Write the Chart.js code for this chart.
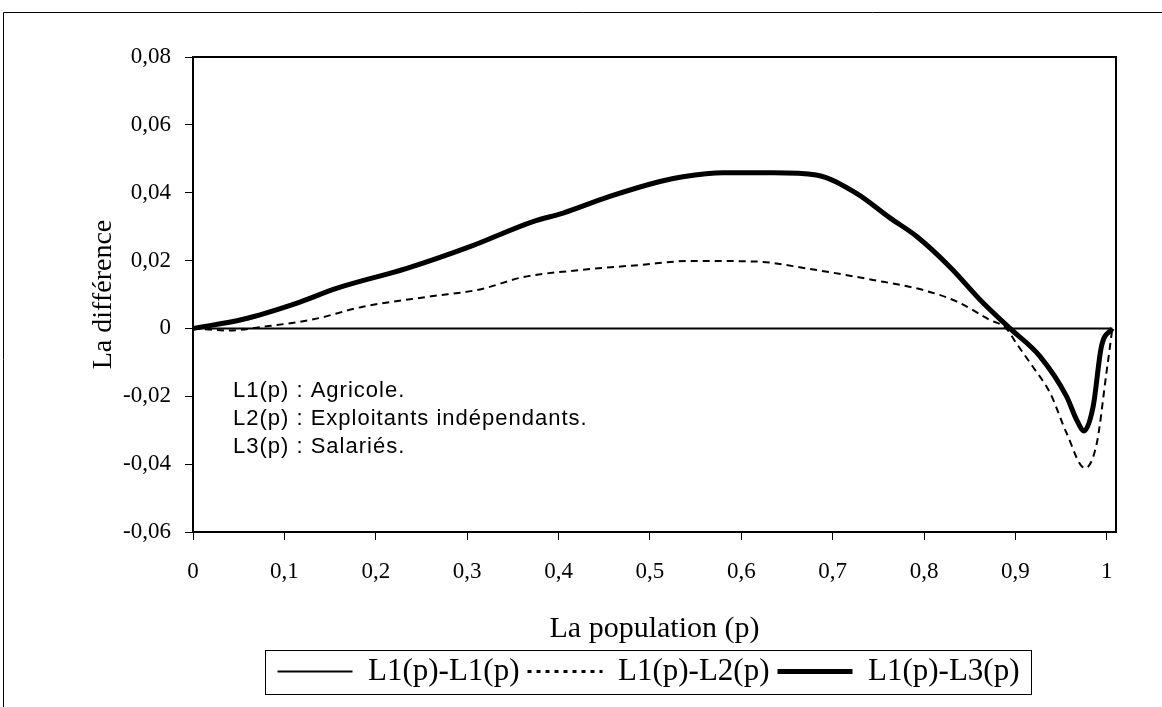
<!DOCTYPE html>
<html>
<head>
<meta charset="utf-8">
<script src="https://cdn.jsdelivr.net/npm/chart.js@4/dist/chart.umd.min.js"></script>
<style>
  html, body { margin: 0; padding: 0; background: #fff; }
  #wrap { width: 1162px; height: 707px; }
</style>
</head>
<body>
<div id="wrap"><canvas id="chart" width="1162" height="707"></canvas></div>
<script>
// values
const zeroP = [0, 1.006];
const zeroDiff = [0, 0];

const l2P = [0, 0.04, 0.077, 0.132, 0.186, 0.259, 0.314, 0.361, 0.423, 0.489, 0.544, 0.617, 0.671, 0.744, 0.799, 0.836, 0.872, 0.89, 0.901, 0.919, 0.938, 0.956, 0.976, 0.989, 0.999, 1.006];
const l2Diff = [0, -0.0006, 0.0005, 0.0027, 0.0064, 0.0094, 0.0115, 0.0151, 0.0172, 0.0187, 0.0199, 0.0197, 0.0177, 0.0143, 0.0113, 0.0079, 0.0025, 0, -0.0044, -0.0113, -0.0191, -0.0309, -0.0412, -0.0338, -0.0142, 0];

const l3P = [0, 0.055, 0.113, 0.157, 0.234, 0.303, 0.372, 0.405, 0.456, 0.511, 0.536, 0.58, 0.635, 0.682, 0.726, 0.763, 0.792, 0.828, 0.865, 0.894, 0.927, 0.956, 0.967, 0.975, 0.985, 0.994, 1.006];
const l3Diff = [0, 0.0027, 0.0074, 0.0118, 0.0177, 0.0241, 0.0315, 0.034, 0.0389, 0.0433, 0.0447, 0.0459, 0.0459, 0.0452, 0.0398, 0.0325, 0.0271, 0.0182, 0.0074, 0, -0.0083, -0.0201, -0.027, -0.0302, -0.023, -0.0054, 0];

const seriesNames = ['L1(p)-L1(p)', 'L1(p)-L2(p)', 'L1(p)-L3(p)'];
const xTicks = [0, 0.1, 0.2, 0.3, 0.4, 0.5, 0.6, 0.7, 0.8, 0.9, 1];
const notes = ['L1(p) : Agricole.', 'L2(p) : Exploitants indépendants.', 'L3(p) : Salariés.'];

const legendDash = [[], [4, 5], []];
const legendWidth = [2, 3, 5];

const pts = (xs, ys) => xs.map((x, i) => ({ x: x, y: ys[i] }));
const comma = (v, d) => {
  if (Math.abs(v) < 1e-9) return '0';
  if (Math.abs(v - 1) < 1e-9) return '1';
  return v.toFixed(d).replace('.', ',');
};

const serif = 'Liberation Serif, Times New Roman, serif';
const PLOT_BOTTOM = 532;
const PAD_BOTTOM = 10;

// frame, plot box, legend box and the text notes
const decor = {
  id: 'decor',
  afterLayout(chart) {
    const lg = chart.legend;
    lg.left = chart.chartArea.left - 6;
    lg.right = chart.chartArea.right - 6;
  },
  beforeDatasetsDraw(chart) {
    const { ctx, chartArea: a } = chart;
    ctx.save();
    ctx.strokeStyle = '#000';
    ctx.lineWidth = 1;
    ctx.beginPath();
    ctx.moveTo(3.5, 707);
    ctx.lineTo(3.5, 12.5);
    ctx.lineTo(1162, 12.5);
    ctx.stroke();
    ctx.lineWidth = 2;
    ctx.strokeRect(a.left, a.top, a.right - a.left, a.bottom - a.top);
    ctx.fillStyle = '#000';
    ctx.font = '22px Liberation Sans, Arial, sans-serif';
    ctx.letterSpacing = '1px';
    ctx.textBaseline = 'middle';
    notes.forEach((t, i) => ctx.fillText(t, 233, 391 + i * 28));
    ctx.restore();
  },
  afterDraw(chart) {
    const { ctx } = chart;
    const lg = chart.legend;
    const hb = lg.legendHitBoxes && lg.legendHitBoxes[0];
    if (!hb) return;
    const pad = lg.options.labels.padding;
    const w = lg.lineWidths[0];
    const start = (lg.left + pad + lg.right - w) / 2;
    const cy = hb.top + hb.height / 2;
    ctx.save();
    ctx.strokeStyle = '#000';
    ctx.lineWidth = 1;
    ctx.strokeRect(Math.round(start - 13) + 0.5, Math.round(cy - 22) + 0.5, Math.round(w + 16), 44);
    ctx.restore();
  }
};

new Chart(document.getElementById('chart'), {
  type: 'line',
  data: {
    datasets: [
      {
        label: seriesNames[0],
        data: pts(zeroP, zeroDiff),
        borderColor: '#000',
        borderWidth: 2,
        pointRadius: 0
      },
      {
        label: seriesNames[1],
        data: pts(l2P, l2Diff),
        borderColor: '#000',
        borderWidth: 2,
        borderDash: [7, 5],
        pointRadius: 0,
        cubicInterpolationMode: 'monotone'
      },
      {
        label: seriesNames[2],
        data: pts(l3P, l3Diff),
        borderColor: '#000',
        borderWidth: 5,
        pointRadius: 0,
        cubicInterpolationMode: 'monotone'
      }
    ]
  },
  options: {
    responsive: false,
    animation: false,
    devicePixelRatio: 1,
    layout: { padding: { left: 0, top: 57, right: 46, bottom: PAD_BOTTOM } },
    plugins: {
      tooltip: { enabled: false },
      legend: {
        position: 'bottom',
        labels: {
          usePointStyle: true,
          pointStyle: 'line',
          pointStyleWidth: 75,
          padding: 8,
          color: '#000',
          font: { family: serif, size: 31 },
          generateLabels: (chart) => {
            const items = Chart.defaults.plugins.legend.labels.generateLabels(chart);
            items.forEach((it, i) => {
              it.lineDash = legendDash[i];
              it.lineWidth = legendWidth[i];
              it.strokeStyle = '#000';
            });
            return items;
          }
        }
      }
    },
    scales: {
      x: {
        type: 'linear',
        min: 0,
        max: 1.01,
        afterBuildTicks: (s) => { s.ticks = xTicks.map(v => ({ value: v })); },
        afterFit: (s) => { s.height = s.chart.height - PLOT_BOTTOM - s.chart.legend.height - PAD_BOTTOM; },
        grid: { drawOnChartArea: false, color: '#000', tickLength: 8, lineWidth: 1 },
        border: { display: false },
        ticks: {
          color: '#000',
          padding: 18,
          maxRotation: 0,
          autoSkip: false,
          font: { family: serif, size: 23 },
          callback: (v) => comma(v, 1)
        },
        title: {
          display: true,
          text: 'La population (p)',
          color: '#000',
          font: { family: serif, size: 30, lineHeight: 1 },
          padding: { top: 0, bottom: 4 }
        }
      },
      y: {
        min: -0.06,
        max: 0.08,
        afterFit: (s) => { s.width = 193; },
        grid: { drawOnChartArea: false, color: '#000', tickLength: 8, lineWidth: 1 },
        border: { display: false },
        ticks: {
          stepSize: 0.02,
          color: '#000',
          padding: 14,
          font: { family: serif, size: 23 },
          callback: (v) => comma(v, 2)
        },
        title: {
          display: true,
          text: 'La différence',
          color: '#000',
          font: { family: serif, size: 28, lineHeight: 1 },
          padding: { top: 90, bottom: 0 }
        }
      }
    }
  },
  plugins: [decor]
});
</script>
</body>
</html>
